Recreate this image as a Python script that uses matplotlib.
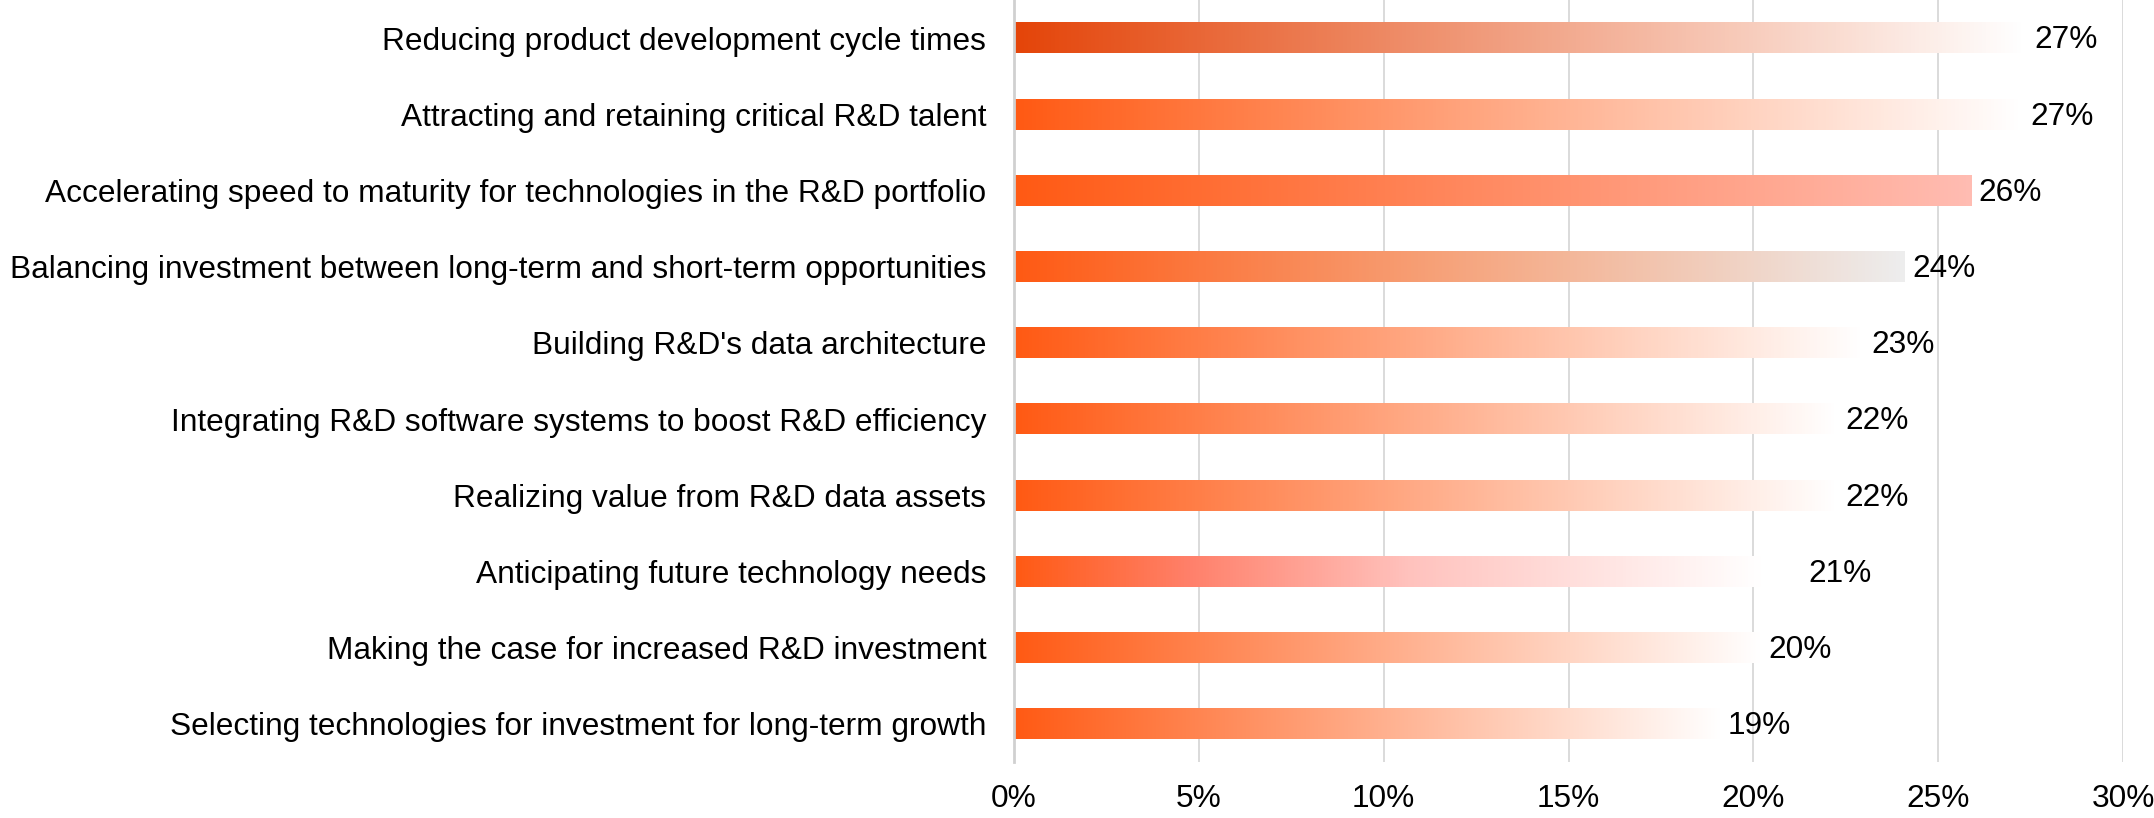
import matplotlib
matplotlib.use("Agg")
import matplotlib.pyplot as plt
import numpy as np
from matplotlib.colors import LinearSegmentedColormap

plt.rcParams["font.family"] = ["Liberation Sans", "DejaVu Sans"]

categories = [
    "Reducing product development cycle times",
    "Attracting and retaining critical R&D talent",
    "Accelerating speed to maturity for technologies in the R&D portfolio",
    "Balancing investment between long-term and short-term opportunities",
    "Building R&D's data architecture",
    "Integrating R&D software systems to boost R&D efficiency",
    "Realizing value from R&D data assets",
    "Anticipating future technology needs",
    "Making the case for increased R&D investment",
    "Selecting technologies for investment for long-term growth",
]
values = [27.4, 27.3, 25.9, 24.1, 23.0, 22.3, 22.3, 21.3, 20.2, 19.1]
value_labels = ["27%", "27%", "26%", "24%", "23%", "22%", "22%", "21%", "20%", "19%"]
x_ticks = [0, 5, 10, 15, 20, 25, 30]

# gradient stops per bar (left -> right)
ORANGE = "#ff5a14"
gradients = [
    [(0, "#e4450a"), (1, "#ffffff")],
    [(0, ORANGE), (1, "#ffffff")],
    [(0, ORANGE), (1, "#ffbcb2")],
    [(0, ORANGE), (0.5, "#f6a57e"), (1, "#ededed")],
    [(0, ORANGE), (1, "#ffffff")],
    [(0, ORANGE), (1, "#ffffff")],
    [(0, ORANGE), (1, "#ffffff")],
    [(0, ORANGE), (0.22, "#ff806a"), (0.5, "#ffc2bd"), (0.95, "#ffffff"), (1, "#ffffff")],
    [(0, ORANGE), (1, "#ffffff")],
    [(0, ORANGE), (1, "#ffffff")],
]

FS = 22.8

fig = plt.figure(figsize=(21.54, 8.18), dpi=100)
ax = fig.add_axes([1014 / 2154, 56 / 818, (2123 - 1014) / 2154, 762 / 818])

bar_h = 0.40
grad = np.linspace(0, 1, 256).reshape(1, -1)
for i, (v, stops) in enumerate(zip(values, gradients)):
    cmap = LinearSegmentedColormap.from_list(f"g{i}", stops)
    ax.imshow(grad, extent=(0, v, i + bar_h / 2, i - bar_h / 2),
              aspect="auto", cmap=cmap, interpolation="bilinear", zorder=2)
    ax.text(v + 0.2, i + 0.03, value_labels[i], va="center", ha="left",
            fontsize=FS, color="black", zorder=3)

ax.set_xlim(0, 30)
ax.set_ylim(len(values) - 0.5, -0.5)
ax.set_xticks(x_ticks, [f"{t}%" for t in x_ticks])
ax.set_yticks(range(len(categories)), categories)
ax.tick_params(axis="both", length=0, labelsize=FS)
ax.tick_params(axis="y", pad=20)
ax.tick_params(axis="x", pad=16)
ax.grid(axis="x", color="#d4d4d4", linewidth=1.2, zorder=0)
ax.set_axisbelow(True)
for s in ("top", "right", "bottom"):
    ax.spines[s].set_visible(False)
ax.spines["left"].set_color("#d0d0d0")
ax.spines["left"].set_linewidth(2)

fig.savefig("out.png", dpi=100)
